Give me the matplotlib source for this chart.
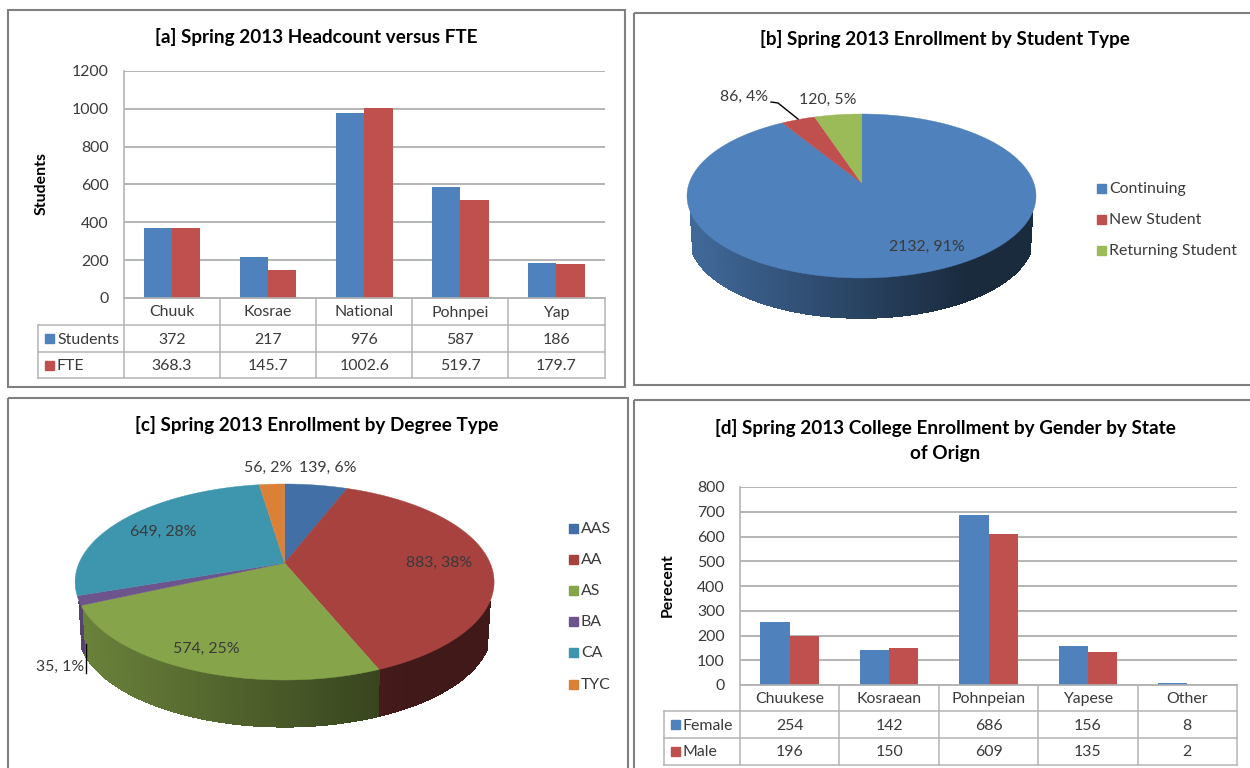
"""Spring 2013 enrollment dashboard - two bar charts with data tables, two 3D style pies"""
import numpy as np
import matplotlib
matplotlib.use('Agg')
import matplotlib.pyplot as plt
from matplotlib.patches import Rectangle
from matplotlib.colors import to_rgb

plt.rcParams['font.family'] = ['Lato', 'DejaVu Sans']

W, H = 1250, 768
TEXT = '#3a3a3a'
GRID = '#b4b4b4'
BLUE, RED = '#4f81bd', '#c0504d'
BASE_SIZE = 11.4
TITLE_SIZE = 13.6

# panel a
campus = ['Chuuk', 'Kosrae', 'National', 'Pohnpei', 'Yap']
students = [372, 217, 976, 587, 186]
fte = [368.3, 145.7, 1002.6, 519.7, 179.7]
a_ticks = [0, 200, 400, 600, 800, 1000, 1200]

# panel b
type_names = ['Continuing', 'New Student', 'Returning Student']
type_values = [2132, 86, 120]
type_labels = ['2132, 91%', '86, 4%', '120, 5%']
type_colors = ['#4f81bd', '#c0504d', '#9bbb59']

# panel c
degree_names = ['AAS', 'AA', 'AS', 'BA', 'CA', 'TYC']
degree_values = [139, 883, 574, 35, 649, 56]
degree_labels = ['139, 6%', '883, 38%', '574, 25%', '35, 1%', '649, 28%', '56, 2%']
degree_colors = ['#416fa6', '#a8423f', '#86a44a', '#6e548d', '#3d96ae', '#da8137']

# panel d
origin = ['Chuukese', 'Kosraean', 'Pohnpeian', 'Yapese', 'Other']
female = [254, 142, 686, 156, 8]
male = [196, 150, 609, 135, 2]
d_ticks = [0, 100, 200, 300, 400, 500, 600, 700, 800]


def label(ax, x, y, s, size=BASE_SIZE, **kw):
    kw.setdefault('color', TEXT)
    ax.text(x, y + 1, s, fontsize=size, ha=kw.pop('ha', 'center'), va=kw.pop('va', 'center'), **kw)


def title(ax, x, y, s):
    label(ax, x, y, s, size=TITLE_SIZE, fontweight='bold', color='black')


def bar_panel(canvas, box, table_left, row_ys, names, series, ticks, ylabel, ylabel_x):
    """Clustered bars plus the Excel style data table below them"""
    left, right, top, bottom = box
    ax = fig.add_axes([left / W, 1 - bottom / H, (right - left) / W, (bottom - top) / H])
    x = np.arange(len(names))
    width = 0.295
    for i, (_, values, color) in enumerate(series):
        ax.bar(x + (i - 0.5) * width, values, width, color=color, zorder=3)
    ax.set_xlim(-0.5, len(names) - 0.5)
    ax.set_ylim(ticks[0], ticks[-1])
    ax.set_yticks(ticks)
    ax.set_xticks([])
    ax.tick_params(axis='y', length=0, pad=11, labelsize=BASE_SIZE, labelcolor=TEXT)
    ax.grid(axis='y', color=GRID, lw=1.4, zorder=0)
    ax.set_axisbelow(True)
    for side in ['top', 'right']:
        ax.spines[side].set_visible(False)
    for side in ['left', 'bottom']:
        ax.spines[side].set_color(GRID)
        ax.spines[side].set_linewidth(1.2)

    # data table
    col = (right - left) / len(names)
    r0, r1, r2, r3 = row_ys
    for k in range(len(names) + 1):
        canvas.plot([left + k * col] * 2, [r0, r3], color=GRID, lw=1.1)
    canvas.plot([table_left] * 2, [r1, r3], color=GRID, lw=1.1)
    canvas.plot([left, right], [r0, r0], color=GRID, lw=1.1)
    for ry in [r1, r2, r3]:
        canvas.plot([table_left, right], [ry, ry], color=GRID, lw=1.1)
    for k, name in enumerate(names):
        label(canvas, left + (k + 0.5) * col, (r0 + r1) / 2, name)
    for (sname, values, color), ya, yb in zip(series, [r1, r2], [r2, r3]):
        ymid = (ya + yb) / 2
        canvas.add_patch(Rectangle((table_left + 6.5, ymid - 4.5), 9, 9, color=color))
        label(canvas, table_left + 19, ymid, sname, ha='left')
        for k, v in enumerate(values):
            label(canvas, left + (k + 0.5) * col, ymid, f'{v:g}')
    label(canvas, ylabel_x, (top + bottom) / 2 - 2, ylabel, size=BASE_SIZE, rotation=90,
          fontweight='bold', color='black')


def rim_points(theta, cx, cy, rx, ry, apex_up):
    """Where rays from the off-centre apex meet the top ellipse (gives the perspective look)"""
    dx, dy = rx * np.sin(theta), ry * np.cos(theta)
    a = (dx / rx) ** 2 + (dy / ry) ** 2
    b = 2 * dy * apex_up / ry ** 2
    c = (apex_up / ry) ** 2 - 1
    t = (-b + np.sqrt(b * b - 4 * a * c)) / (2 * a)
    return cx + dx * t, cy - (apex_up + dy * t)


def pie_panel(canvas, values, colors, cx, cy, rx, ry, apex_up, depth, wall_min=0.33, wall_max=0.82):
    """Slices run clockwise from 12 o'clock, wall is shaded darker to the right"""
    edges = np.cumsum([0] + list(values)) / sum(values) * 2 * np.pi
    shrink = 0.985
    for start, stop, color in zip(edges[:-1], edges[1:], colors):
        theta = np.linspace(start, stop, max(int((stop - start) * 100), 3))
        xs, ys = rim_points(theta, cx, cy, rx, ry, apex_up)
        # wall, only where the rim faces the viewer
        idx = np.where(ys > cy + 0.2 * ry)[0]
        for i, j in zip(idx[:-1], idx[1:]):
            xb = cx + (xs[[j, i]] - cx) * shrink
            yb = cy + (ys[[j, i]] - cy) * shrink + depth
            pos = (xs[i] - cx) / rx
            f = np.interp(pos, [-1, 0.6, 1], [wall_max, wall_min, wall_min])
            shade = tuple(np.array(to_rgb(color)) * f)
            canvas.fill([xs[i], xs[j], xb[0], xb[1]], [ys[i], ys[j], yb[0], yb[1]],
                        color=shade, lw=0.8, antialiased=False, zorder=2)
    for start, stop, color in zip(edges[:-1], edges[1:], colors):
        theta = np.linspace(start, stop, max(int((stop - start) * 100), 3))
        xs, ys = rim_points(theta, cx, cy, rx, ry, apex_up)
        canvas.fill(np.r_[cx, xs], np.r_[cy - apex_up, ys], color=color, lw=0.3, zorder=3)


def legend_column(canvas, names, colors, x, ys):
    for name, color, y in zip(names, colors, ys):
        canvas.add_patch(Rectangle((x - 4.5, y - 4.5), 9, 9, color=color, zorder=4))
        label(canvas, x + 8, y, name, ha='left')


fig = plt.figure(figsize=(W / 100, H / 100), dpi=100)
canvas = fig.add_axes([0, 0, 1, 1], zorder=5)
canvas.set_xlim(0, W)
canvas.set_ylim(H, 0)
canvas.axis('off')
canvas.patch.set_alpha(0)

# panel frames
for fx, fy, fw, fh in [(8, 10, 617, 377), (634, 13, 618, 372), (8, 398, 620, 374), (634, 400, 618, 372)]:
    canvas.add_patch(Rectangle((fx, fy), fw, fh, fill=False, ec='#808080', lw=1.5))

# [a]
bar_panel(canvas, (124, 604.5, 71, 298), 38, (298, 325, 352, 378), campus,
          [('Students', students, BLUE), ('FTE', fte, RED)], a_ticks, 'Students', 42)
title(canvas, 316, 36, '[a] Spring 2013 Headcount versus FTE')

# [b]
pie_panel(canvas, type_values, type_colors, 861.5, 196, 174.5, 82, 13, 41)
title(canvas, 945, 38, '[b] Spring 2013 Enrollment by Student Type')
label(canvas, 927, 246, type_labels[0], zorder=6)
label(canvas, 744, 96, type_labels[1], zorder=6)
label(canvas, 828, 99, type_labels[2], zorder=6)
canvas.plot([771, 778, 798], [102, 103, 119], color='black', lw=1, zorder=6)
legend_column(canvas, type_names, type_colors, 1101, [188, 219, 250])

# [c]
pie_panel(canvas, degree_values, degree_colors, 284.6, 582, 209.5, 98, 19, 48, wall_min=0.38, wall_max=0.8)
title(canvas, 317, 424, '[c] Spring 2013 Enrollment by Degree Type')
for s, lx, ly in zip(degree_labels, [328, 439, 206, 60, 163, 268], [467, 562, 648, 666, 531, 467]):
    label(canvas, lx, ly, s, zorder=6)
canvas.plot([85.5, 85.5], [644, 673], color='black', lw=1, zorder=6)
legend_column(canvas, degree_names, degree_colors, 573, [528, 559, 590, 621, 652, 684])

# [d]
bar_panel(canvas, (740, 1237, 487, 685), 664, (685, 711, 738, 765), origin,
          [('Female', female, BLUE), ('Male', male, RED)], d_ticks, 'Perecent', 668)
title(canvas, 945, 427, '[d] Spring 2013 College Enrollment by Gender by State')
title(canvas, 945, 452, 'of Orign')

fig.savefig('out.png', dpi=100)
